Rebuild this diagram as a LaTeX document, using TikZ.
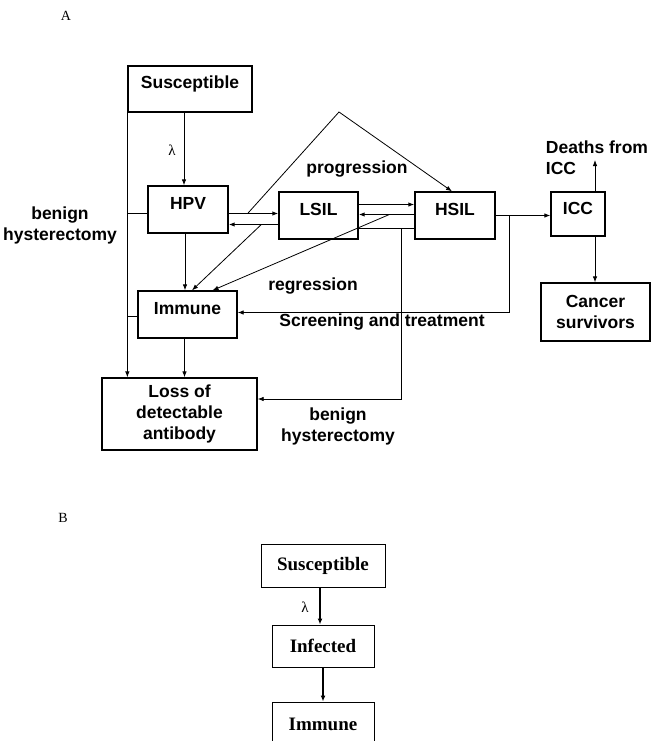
\documentclass[tikz,border=0pt]{standalone}
\usepackage{fontspec}
\setmainfont{Liberation Serif}
\newfontfamily\arialfont{Liberation Sans}
\usetikzlibrary{arrows.meta}

\begin{document}
\begin{tikzpicture}[x=1pt, y=-1pt]

% page frame, same size as the scan
\useasboundingbox (0,0) rectangle (651,741);

% Define styles for boxes and flows
\tikzstyle{box} = [draw, line width=1.3pt, inner sep=0pt, align=center, font=\arialfont\bfseries\fontsize{17.5}{21}\selectfont]
\tikzstyle{onebox} = [draw, line width=1.3pt, inner sep=0pt, text height=9pt, text depth=9pt, font=\arialfont\bfseries\fontsize{17.5}{21}\selectfont]
\tikzstyle{tag} = [align=center, font=\arialfont\bfseries\fontsize{17.5}{21}\selectfont]
\tikzstyle{flow} = [line width=0.8pt, -{Latex[length=6pt,width=4.5pt]}]
\tikzstyle{pair} = [flow, line width=1.2pt]

% Styles for the small model (panel B)
\tikzstyle{oldbox} = [draw, line width=1pt, inner sep=0pt, font=\bfseries\fontsize{19}{22}\selectfont]
\tikzstyle{thickflow} = [line width=2pt, -{Latex[length=6pt,width=5pt]}]

% Panel A
\node[font=\fontsize{14}{16}\selectfont] (lblA) at (66,16) {A};

\node[onebox, minimum width=124pt, minimum height=46pt] (sus) at (190,89) {Susceptible};
\node[onebox, minimum width=80pt, minimum height=47pt] (hpv) at (188,209.5) {HPV};
\node[onebox, minimum width=79pt, minimum height=47pt] (lsil) at (318.5,215.5) {LSIL};
\node[onebox, minimum width=80pt, minimum height=47pt] (hsil) at (455,215.5) {HSIL};
\node[onebox, minimum width=54pt, minimum height=44pt] (icc) at (578,214) {ICC};
\node[box, minimum width=109pt, minimum height=58pt] (surv) at (595.5,312) {Cancer\\survivors};
\node[onebox, minimum width=99pt, minimum height=47pt] (imm) at (187.5,314.5) {Immune};
\node[box, minimum width=155pt, minimum height=72pt] (loss) at (179.5,414) {Loss of\\detectable\\antibody};

% infection and the left trunk
\draw[flow] ([xshift=-4pt]hpv.north |- sus.south) -- ([xshift=-4pt]hpv.north);
\node[font=\fontsize{15}{17}\selectfont] (lamA) at (172,150) {λ};
\draw[flow] ([xshift=-3pt]hpv.south) -- ([xshift=-3pt]hpv.south |- imm.north);
\draw[flow] ([xshift=-3pt]imm.south) -- ([xshift=-3pt]imm.south |- loss.north);
\draw[flow] (sus.south west) -- (sus.south west |- loss.north);
\draw[line width=0.8pt] ([yshift=-4pt]hpv.west) -- ([yshift=-4pt]hpv.west -| sus.west);
\draw[line width=0.8pt] ([yshift=-2pt]imm.west) -- ([yshift=-2pt]imm.west -| sus.west);
\node[tag] (benL) at (60,225) {benign\\hysterectomy};

% lesion steps
\draw[pair] ([yshift=-4pt]hpv.east) -- ([yshift=-4pt]hpv.east -| lsil.west);
\draw[pair] ([yshift=-9pt]lsil.west) -- ([yshift=-9pt]lsil.west -| hpv.east);
\draw[pair] ([yshift=11pt]lsil.east) -- ([yshift=11pt]hsil.west);
\draw[pair] ([yshift=1pt]hsil.west) -- ([yshift=1pt]lsil.east);
\draw[line width=1.2pt] ([yshift=-13pt]lsil.east) -- ([yshift=-13pt]hsil.west);

%progression over the top
\coordinate (peak) at (339,112);
\draw[flow] ([xshift=19pt,yshift=-4pt]hpv.east) -- (peak) -- ([xshift=-3pt]hsil.north);
\node[tag] (prog) at (357,169) {progression};

% regression back to immune
\draw[flow] ([xshift=-17pt,yshift=-9pt]lsil.west) -- ([xshift=4.5pt]imm.north);
\draw[flow] ([xshift=-25pt,yshift=1pt]hsil.west) -- ([xshift=25pt]imm.north);
\node[tag] (regr) at (313,286) {regression};

% cancer and screening
\draw[flow] (hsil.east) -- (hsil.east -| icc.west);
\coordinate (split) at (509,215.5);
\draw[flow] (split) |- ([yshift=2pt]imm.east);
\node[tag] (scr) at (382,322) {Screening and treatment};
\coordinate (deathtip) at (595,160);
\draw[flow] ([xshift=17pt]icc.north) -- (deathtip);
\node[tag, align=left] (death) at (597,158) {Deaths from\\ICC};
\draw[flow] ([xshift=17pt]icc.south) -- ([xshift=17pt]icc.south |- surv.north);

% hysterectomy after lesions
\coordinate (drop) at (401,228.5);
\draw[flow] (drop) |- ([yshift=15pt]loss.east);
\node[tag] (benR) at (338,426) {benign\\hysterectomy};

% Panel B
\node[font=\fontsize{14}{16}\selectfont] (lblB) at (63,518) {B};

\node[oldbox, minimum width=124pt, minimum height=43pt] (susB) at (323,565.5) {Susceptible};
\node[oldbox, minimum width=102pt, minimum height=42pt] (infB) at (323,646) {Infected};
\node[oldbox, minimum width=102pt, minimum height=44pt] (immB) at (323,724) {Immune};
\draw[thickflow] ([xshift=-3pt]susB.south) -- ([xshift=-3pt]susB.south |- infB.north);
\node[font=\fontsize{15}{17}\selectfont] (lamB) at (305,607) {λ};
\draw[thickflow] (infB.south) -- (immB.north);

\end{tikzpicture}
\end{document}
